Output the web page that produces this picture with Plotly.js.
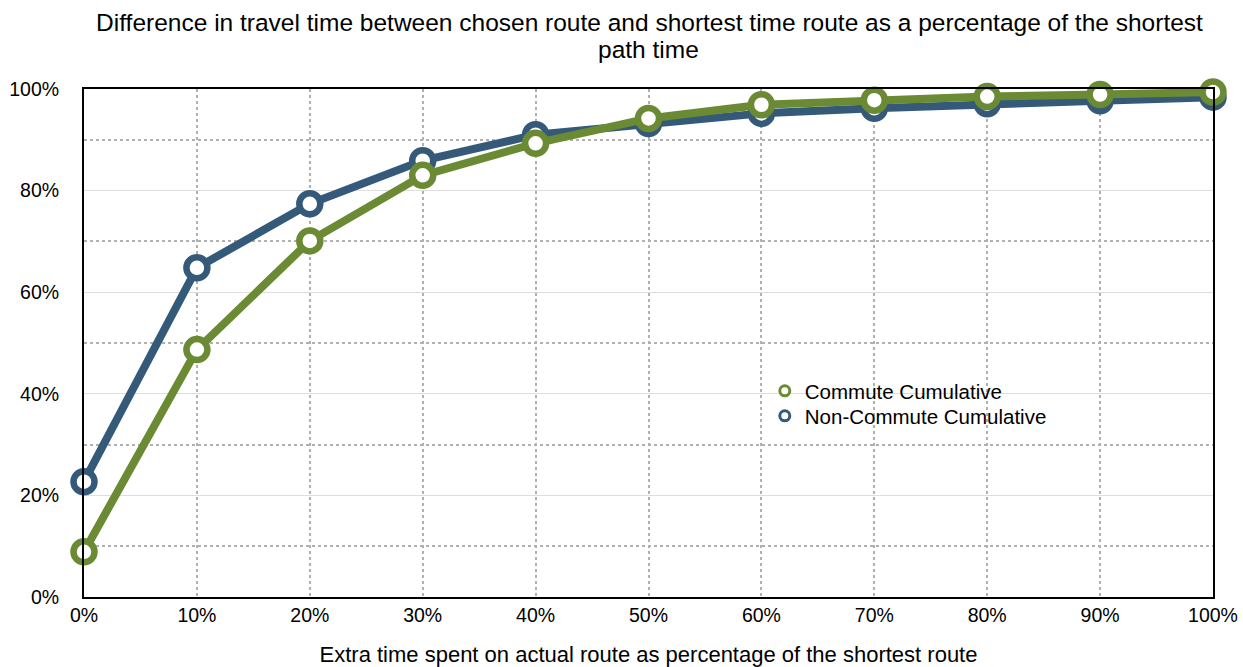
<!DOCTYPE html>
<html>
<head>
<meta charset="utf-8">
<script src="https://cdn.plot.ly/plotly-3.0.1.min.js"></script>
<style>html,body{margin:0;padding:0;background:#fff;}#chart{width:1243px;height:667px;}</style>
</head>
<body>
<div id="chart"></div>
<script>
const xValues = [0, 10, 20, 30, 40, 50, 60, 70, 80, 90, 100];
const commute = [8.9, 48.7, 70.1, 83.0, 89.3, 94.2, 96.9, 97.8, 98.5, 98.9, 99.4];
const nonCommute = [22.7, 64.8, 77.4, 85.9, 91.0, 93.2, 95.2, 96.2, 97.1, 97.7, 98.4];
const yTicks = [0, 20, 40, 60, 80, 100];
const yMinorTicks = [10, 30, 50, 70, 90];
const xTicks = [0, 10, 20, 30, 40, 50, 60, 70, 80, 90, 100];
const titleLine1 = 'Difference in travel time between chosen route and shortest time route as a percentage of the shortest';
const titleLine2 = 'path time';

const green = '#6b8a34';
const blue = '#355a79';
const font = 'Liberation Sans, Arial, Helvetica, sans-serif';

function mainTrace(y, color, name) {
  return {
    x: xValues, y: y, name: name, type: 'scatter', mode: 'lines+markers',
    line: {color: color, width: 8},
    marker: {size: 21, color: '#ffffff', line: {color: color, width: 6.5}},
    showlegend: false, cliponaxis: false, hoverinfo: 'x+y'
  };
}
function legendTrace(color, name, legendId) {
  return {
    x: [null], y: [null], name: name, type: 'scatter', mode: 'markers',
    marker: {size: 10, color: '#ffffff', line: {color: color, width: 3}},
    showlegend: true, legend: legendId
  };
}

const data = [
  mainTrace(nonCommute, blue, 'Non-Commute Cumulative'),
  mainTrace(commute, green, 'Commute Cumulative'),
  legendTrace(green, 'Commute Cumulative', 'legend'),
  legendTrace(blue, 'Non-Commute Cumulative', 'legend2')
];

const legendBase = {
  x: 0.603, xanchor: 'left', yanchor: 'top',
  bgcolor: 'rgba(0,0,0,0)', font: {family: font, size: 20.5, color: '#000'},
  itemwidth: 30
};

const layout = {
  width: 1243, height: 667,
  margin: {l: 84, r: 30, t: 89, b: 70},
  paper_bgcolor: '#ffffff', plot_bgcolor: '#ffffff',
  font: {family: font, size: 19, color: '#000'},
  title: {
    text: titleLine1,
    font: {family: font, size: 24.5, color: '#000'},
    x: 649.5 / 1243, xanchor: 'center', xref: 'container',
    y: 1 - 22 / 667, yanchor: 'middle', yref: 'container'
  },
  annotations: [{
    text: titleLine2, xref: 'paper', yref: 'paper',
    x: (648 - 84) / 1129, y: (597 - 50) / 508, xanchor: 'center', yanchor: 'middle',
    showarrow: false, font: {family: font, size: 24.5, color: '#000'}
  }],
  xaxis: {
    range: [0, 100], tickvals: xTicks, ticktext: xTicks.map(v => v + '%'),
    showgrid: true, gridcolor: '#b0b0b0', griddash: 'dot', gridwidth: 2,
    showline: true, mirror: true, linecolor: '#000', linewidth: 2,
    ticks: '', zeroline: false, ticklabelstandoff: 0,
    tickfont: {family: font, size: 19.5, color: '#000'},
    title: {text: 'Extra time spent on actual route as percentage of the shortest route', font: {family: font, size: 22, color: '#000'}, standoff: 22}
  },
  yaxis: {
    range: [0, 100], tickvals: yTicks, ticktext: yTicks.map(v => v + '%'),
    showgrid: true, gridcolor: '#dedede', gridwidth: 1,
    minor: {tickvals: yMinorTicks, showgrid: true, gridcolor: '#b0b0b0', griddash: 'dot', gridwidth: 2, ticks: ''},
    showline: true, mirror: true, linecolor: '#000', linewidth: 2,
    ticks: '', zeroline: false, ticklabelstandoff: 19,
    tickfont: {family: font, size: 19.5, color: '#000'}
  },
  legend: Object.assign({}, legendBase, {y: (597 - 371) / 508}),
  legend2: Object.assign({}, legendBase, {y: (597 - 396) / 508}),
  showlegend: true
};

Plotly.newPlot('chart', data, layout, {displayModeBar: false, staticPlot: true});
</script>
</body>
</html>
